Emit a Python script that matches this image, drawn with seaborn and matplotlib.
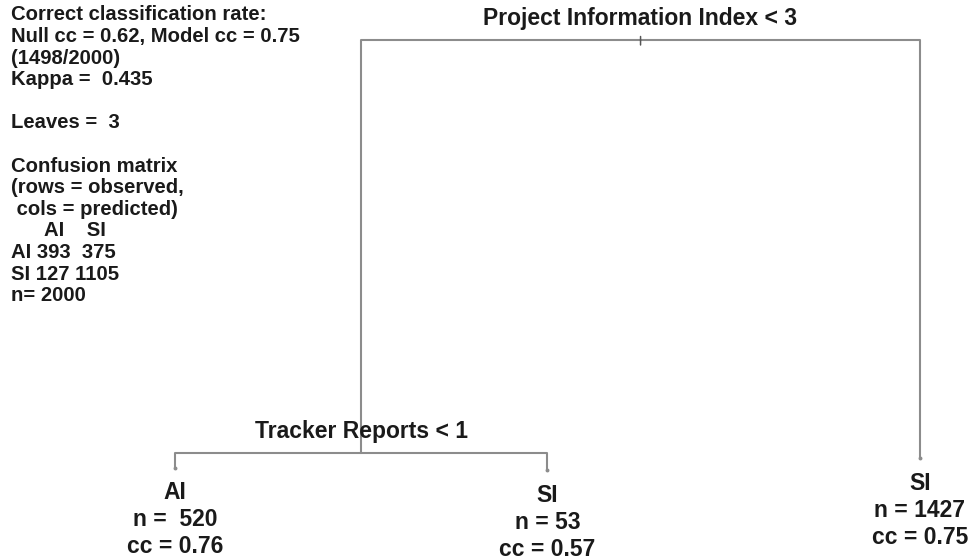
import matplotlib
matplotlib.use("Agg")
import matplotlib.pyplot as plt
import seaborn as sns
import pandas as pd

# ---- data ----
split_labels = ["Project Information Index < 3", "Tracker Reports < 1"]
# tree nodes: id, parent, x (leaf units), height (relative deviance)
node_id = [1, 2, 3, 4, 5]
node_parent = [0, 1, 1, 2, 2]
node_x = [2.25, 1.5, 3.0, 1.0, 2.0]
node_y = [1.0, 0.040, 0.028, 0.005, 0.0]
leaf_nodes = [4, 5, 3]
leaf_class = ["AI", "SI", "SI"]
leaf_n = ["n =  520", "n = 53", "n = 1427"]
leaf_cc = ["cc = 0.76", "cc = 0.57", "cc = 0.75"]
split_nodes = [1, 2]

info_lines = [
    "Correct classification rate:",
    "Null cc = 0.62, Model cc = 0.75",
    "(1498/2000)",
    "Kappa =  0.435",
    "",
    "Leaves =  3",
    "",
    "Confusion matrix",
    "(rows = observed,",
    " cols = predicted)",
    "      AI    SI",
    "AI 393  375",
    "SI 127 1105",
    "n= 2000",
]

# ---- build segments ----
pos = {i: (x, y) for i, x, y in zip(node_id, node_x, node_y)}
rows = []
seg = 0
for i, p in zip(node_id, node_parent):
    if p == 0:
        continue
    px, py = pos[p]
    cx, cy = pos[i]
    rows += [dict(seg=seg, x=px, y=py), dict(seg=seg, x=cx, y=py), dict(seg=seg, x=cx, y=cy)]
    seg += 1
segs = pd.DataFrame(rows)

sns.set_theme(style="white")
plt.rcParams["font.family"] = ["Liberation Sans", "DejaVu Sans"]

PX = 0.72  # points per pixel at 100 dpi
fig = plt.figure(figsize=(9.72, 5.6), dpi=100)
ax = fig.add_axes([0, 0, 1, 1])
line_col = "#8c8c8c"
txt_col = "#1a1a1a"
sns.lineplot(data=segs, x="x", y="y", units="seg", estimator=None, sort=False,
             color=line_col, linewidth=1.5, ax=ax, legend=False)

ax.set_xlim(0.530, 3.140)
ax.set_ylim(-0.209, 1.093)
ax.set_axis_off()

# root tick
rx, ry = pos[1]
ax.annotate("", xy=(rx, ry), xytext=(0, 3.5 * PX), textcoords="offset points",
            arrowprops=dict(arrowstyle="-", color="#555555", lw=1.1, shrinkA=0, shrinkB=0))
ax.annotate("", xy=(rx, ry), xytext=(0, -5 * PX), textcoords="offset points",
            arrowprops=dict(arrowstyle="-", color="#555555", lw=1.1, shrinkA=0, shrinkB=0))

# split labels
for nid, lab in zip(split_nodes, split_labels):
    x, y = pos[nid]
    ax.annotate(lab, xy=(x, y), xytext=(0, 21 * PX), textcoords="offset points",
                ha="center", va="center", fontsize=16.5, fontweight="bold", color=txt_col)

# leaf labels
for nid, c, n, cc in zip(leaf_nodes, leaf_class, leaf_n, leaf_cc):
    x, y = pos[nid]
    ax.plot([x], [y], marker="o", ms=1.8, color=line_col)
    for k, t in enumerate([c, n, cc]):
        ax.annotate(t, xy=(x, y), xytext=(0, -(25 + 27 * k) * PX), textcoords="offset points",
                    ha="center", va="center", fontsize=16.5, fontweight="bold", color=txt_col)

# info block
for k, t in enumerate(info_lines):
    fig.text(11 / 972, 1 - (15 + 21.6 * k) / 560, t, ha="left", va="center",
             fontsize=14.6, fontweight="bold", color=txt_col)

fig.savefig("out.png", dpi=100)
